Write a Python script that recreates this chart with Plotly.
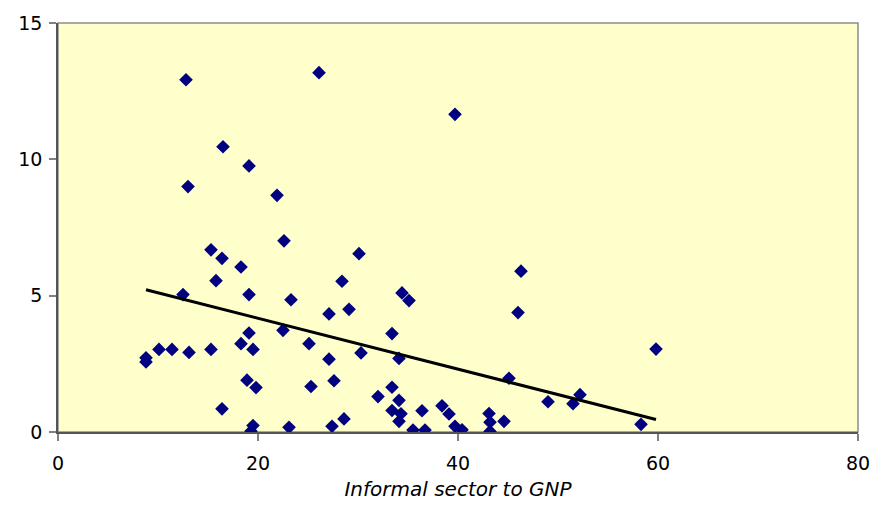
import numpy as np
import plotly.graph_objects as go

# Informal sector share of GNP (%) and the response variable for each country
informal_share = [
    12.8, 26.1, 39.7, 16.5, 19.1, 13.0, 21.9, 22.6, 15.3, 16.4,
    18.3, 15.8, 30.1, 46.3, 28.4, 12.5, 19.1, 23.3, 34.4, 35.1,
    29.1, 27.1, 46.0, 22.5, 33.4, 19.1, 18.3, 25.1, 10.1, 11.4,
    15.3, 19.5, 59.8, 8.8, 8.8, 13.1, 27.1, 30.3, 34.1, 45.1,
    18.9, 27.6, 25.3, 19.8, 33.4, 49.0, 51.5, 52.2, 32.0, 34.1,
    38.4, 39.1, 33.4, 34.3, 34.1, 36.4, 28.6, 27.4, 35.5, 36.7,
    39.7, 40.4, 43.1, 43.2, 43.2, 44.6, 58.3, 16.4, 19.5, 19.3,
    23.1,
]
response = [
    12.92, 13.18, 11.65, 10.46, 9.76, 9.00, 8.68, 7.01, 6.68, 6.37,
    6.05, 5.55, 6.54, 5.90, 5.53, 5.04, 5.04, 4.85, 5.10, 4.82,
    4.50, 4.33, 4.38, 3.73, 3.61, 3.63, 3.24, 3.24, 3.03, 3.03,
    3.03, 3.03, 3.04, 2.72, 2.57, 2.92, 2.67, 2.90, 2.70, 1.97,
    1.90, 1.88, 1.67, 1.63, 1.64, 1.11, 1.04, 1.37, 1.30, 1.16,
    0.96, 0.66, 0.79, 0.67, 0.39, 0.78, 0.48, 0.21, 0.07, 0.07,
    0.21, 0.08, 0.68, 0.36, 0.02, 0.39, 0.28, 0.85, 0.24, 0.03,
    0.17,
]

x_ticks = [0, 20, 40, 60, 80]
y_ticks = [0, 5, 10, 15]

# Least-squares linear trend across the observed range
xs = np.array(informal_share)
ys = np.array(response)
slope, intercept = np.polyfit(xs, ys, 1)
trend_x = np.array([xs.min(), xs.max()])
trend_y = intercept + slope * trend_x

fig = go.Figure()
fig.add_trace(go.Scatter(
    x=informal_share, y=response, mode="markers",
    marker=dict(symbol="diamond", size=10.5, color="#000080"),
    showlegend=False, hoverinfo="x+y",
))
fig.add_trace(go.Scatter(
    x=trend_x, y=trend_y, mode="lines",
    line=dict(color="black", width=3),
    showlegend=False, hoverinfo="skip",
))

# Grey frame around the plotting area
fig.add_shape(type="rect", xref="x domain", yref="y domain",
              x0=0, x1=1, y0=0, y1=1,
              line=dict(color="#8c8c8c", width=1.5), layer="below")

axis_font = dict(family="DejaVu Sans, sans-serif", size=19, color="black")
fig.update_layout(
    width=885, height=518,
    margin=dict(l=58, r=27, t=21, b=86),
    paper_bgcolor="white",
    plot_bgcolor="#FFFFCC",
    font=axis_font,
    xaxis=dict(
        range=[0, 80], tickvals=x_ticks, showgrid=False, zeroline=False,
        showline=True, linecolor="#555555", linewidth=1.5,
        ticks="outside", ticklen=7, tickcolor="#808080", tickwidth=1.5,
        tickfont=axis_font, ticklabelstandoff=6,
        title=dict(text="<i>Informal sector to GNP</i>",
                   font=dict(family="DejaVu Sans, sans-serif", size=20),
                   standoff=9),
    ),
    yaxis=dict(
        range=[0, 15], tickvals=y_ticks, showgrid=False, zeroline=False,
        showline=True, linecolor="#555555", linewidth=1.5,
        ticks="outside", ticklen=7, tickcolor="#808080", tickwidth=1.5,
        tickfont=axis_font, ticklabelstandoff=3,
    ),
)

fig.write_html("out.html")
